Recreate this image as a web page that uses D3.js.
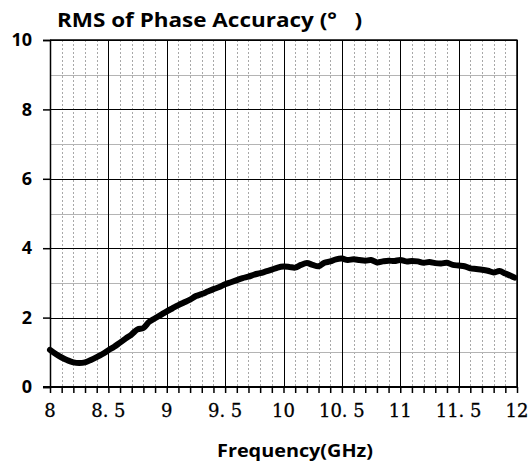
<!DOCTYPE html>
<html>
<head>
<meta charset="utf-8">
<script src="https://cdn.jsdelivr.net/npm/d3@7"></script>
<style>
  body { margin: 0; background: #fff; }
  text { white-space: pre; }
</style>
</head>
<body>
<div id="chart"></div>
<script>
const width = 530,
      height = 467;
const margin = { top: 40, right: 13, bottom: 80, left: 50 };

// frequency in GHz, RMS phase error in degrees
const freq = [8.00, 8.05, 8.10, 8.15, 8.20, 8.25, 8.30, 8.35, 8.40, 8.45,
  8.50, 8.55, 8.60, 8.65, 8.70, 8.75, 8.80, 8.85, 8.90, 8.95,
  9.00, 9.05, 9.10, 9.15, 9.20, 9.25, 9.30, 9.35, 9.40, 9.45,
  9.50, 9.55, 9.60, 9.65, 9.70, 9.75, 9.80, 9.85, 9.90, 9.95,
  10.00, 10.05, 10.10, 10.15, 10.20, 10.25, 10.30, 10.35, 10.40, 10.45,
  10.50, 10.55, 10.60, 10.65, 10.70, 10.75, 10.80, 10.85, 10.90, 10.95,
  11.00, 11.05, 11.10, 11.15, 11.20, 11.25, 11.30, 11.35, 11.40, 11.45,
  11.50, 11.55, 11.60, 11.65, 11.70, 11.75, 11.80, 11.85, 11.90, 11.95, 11.98];
const rms = [1.07, 0.95, 0.85, 0.77, 0.71, 0.69, 0.71, 0.78, 0.86, 0.95,
  1.06, 1.16, 1.28, 1.40, 1.52, 1.66, 1.70, 1.88, 1.98, 2.08,
  2.18, 2.27, 2.36, 2.44, 2.52, 2.62, 2.68, 2.75, 2.82, 2.88,
  2.96, 3.02, 3.08, 3.14, 3.18, 3.24, 3.28, 3.33, 3.38, 3.44,
  3.47, 3.46, 3.44, 3.52, 3.57, 3.52, 3.48, 3.58, 3.62, 3.68,
  3.70, 3.66, 3.68, 3.66, 3.64, 3.66, 3.59, 3.62, 3.64, 3.63,
  3.66, 3.62, 3.63, 3.62, 3.58, 3.60, 3.57, 3.56, 3.58, 3.52,
  3.50, 3.48, 3.42, 3.40, 3.38, 3.35, 3.30, 3.34, 3.27, 3.20, 3.15];

const xTicks = [8, 8.5, 9, 9.5, 10, 10.5, 11, 11.5, 12];
const xTickLabels = ["8", "8. 5", "9", "9. 5", "10", "10. 5", "11", "11. 5", "12"];
const yTicks = [0, 2, 4, 6, 8, 10];

const data = freq.map((f, i) => ({ f, v: rms[i] }));

const svg = d3.select("#chart")
  .append("svg")
  .attr("width", width)
  .attr("height", height);

const x = d3.scaleLinear().domain([8, 12]).range([margin.left, width - margin.right]);
const y = d3.scaleLinear().domain([0, 10]).range([height - margin.bottom, margin.top]);

const x0 = x.range()[0], x1 = x.range()[1];
const y0 = y.range()[0], y1 = y.range()[1];

// minor vertical grid, every 0.1
const minorX = d3.range(81, 121).map(d => d / 10).filter(d => Math.round(d * 10) % 5 !== 0);
svg.append("g").selectAll("line").data(minorX).enter().append("line")
  .attr("x1", d => Math.round(x(d)) + 0.5).attr("x2", d => Math.round(x(d)) + 0.5)
  .attr("y1", y1).attr("y2", y0)
  .attr("stroke", "#a8a8a8").attr("stroke-width", 1)
  .attr("stroke-dasharray", "2,2");

// minor horizontal grid at odd values
svg.append("g").selectAll("line").data([1, 3, 5, 7, 9]).enter().append("line")
  .attr("x1", x0).attr("x2", x1)
  .attr("y1", d => Math.round(y(d)) + 0.5).attr("y2", d => Math.round(y(d)) + 0.5)
  .attr("stroke", "#b4b4b4").attr("stroke-width", 1);

// major grid
svg.append("g").selectAll("line").data(xTicks.slice(1)).enter().append("line")
  .attr("x1", d => Math.round(x(d)) + 0.5).attr("x2", d => Math.round(x(d)) + 0.5)
  .attr("y1", y1).attr("y2", y0)
  .attr("stroke", "#000").attr("stroke-width", 1);

svg.append("g").selectAll("line").data(yTicks.slice(1)).enter().append("line")
  .attr("x1", x0).attr("x2", x1)
  .attr("y1", d => Math.round(y(d)) + 0.5).attr("y2", d => Math.round(y(d)) + 0.5)
  .attr("stroke", "#000").attr("stroke-width", 1);

// x axis: ticks every 0.1
const xAxis = d3.axisBottom(x)
  .tickValues(d3.range(80, 121).map(d => d / 10))
  .tickSize(6)
  .tickFormat("");
const gx = svg.append("g")
  .attr("transform", `translate(0,${y0})`)
  .call(xAxis);
gx.select(".domain").remove();
gx.selectAll(".tick line").attr("stroke", "#000").attr("stroke-width", 1.5);

svg.append("line")
  .attr("x1", x0 - 7).attr("x2", x1 + 1)
  .attr("y1", y0).attr("y2", y0)
  .attr("stroke", "#000").attr("stroke-width", 2);

svg.append("g").selectAll("text").data(xTicks).enter().append("text")
  .attr("x", d => x(d))
  .attr("y", y0 + 30)
  .attr("text-anchor", "middle")
  .attr("font-family", "'DejaVu Serif', serif")
  .attr("font-size", 18)
  .attr("stroke", "#000")
  .attr("stroke-width", 0.3)
  .text((d, i) => xTickLabels[i]);

// y axis
const yAxis = d3.axisLeft(y).tickValues(yTicks).tickSize(7).tickFormat(d3.format("d"));
const gy = svg.append("g")
  .attr("transform", `translate(${x0},0)`)
  .call(yAxis);
gy.select(".domain").attr("stroke", "#000").attr("stroke-width", 1.5);
gy.selectAll(".tick line").attr("stroke", "#000").attr("stroke-width", 1.5);
gy.selectAll(".tick text")
  .attr("x", -18)
  .attr("font-family", "'Open Sans', sans-serif")
  .attr("font-weight", "bold")
  .attr("font-size", 18)
  .attr("fill", "#000");

// frame top and right
svg.append("line")
  .attr("x1", x0).attr("x2", x1 + 0.5).attr("y1", y1).attr("y2", y1)
  .attr("stroke", "#000").attr("stroke-width", 1.5);
svg.append("line")
  .attr("x1", x1).attr("x2", x1).attr("y1", y1).attr("y2", y0)
  .attr("stroke", "#000").attr("stroke-width", 1.5);

// curve
const line = d3.line().x(d => x(d.f)).y(d => y(d.v)).curve(d3.curveCatmullRom);
svg.append("path")
  .datum(data)
  .attr("d", line)
  .attr("fill", "none")
  .attr("stroke", "#000")
  .attr("stroke-width", 6)
  .attr("stroke-linejoin", "round")
  .attr("stroke-linecap", "round");

// titles
svg.append("text")
  .attr("x", 57)
  .attr("y", 27)
  .attr("font-family", "'Open Sans', sans-serif")
  .attr("font-weight", "bold")
  .attr("font-size", 20)
  .attr("textLength", 305)
  .attr("lengthAdjust", "spacingAndGlyphs")
  .text("RMS of Phase Accuracy (°   )");

svg.append("text")
  .attr("x", 217)
  .attr("y", 457)
  .attr("font-family", "'Open Sans', sans-serif")
  .attr("font-weight", "bold")
  .attr("font-size", 18)
  .attr("textLength", 156)
  .attr("lengthAdjust", "spacingAndGlyphs")
  .text("Frequency(GHz)");
</script>
</body>
</html>
